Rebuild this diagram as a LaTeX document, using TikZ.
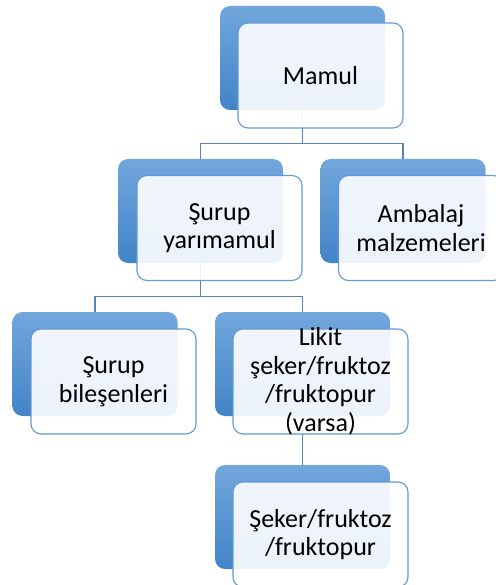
\documentclass[tikz,border=0pt]{standalone}
\usepackage{fontspec}
\setmainfont{Carlito}
\begin{document}
\begin{tikzpicture}[x=1pt,y=-1pt,
  backbox/.style={rectangle, rounded corners=10pt, draw=none,
    top color=backtop, bottom color=backbot,
    minimum width=#1, minimum height=104pt, inner sep=0pt},
  backbox/.default=165pt,
  frontbox/.style={rectangle, rounded corners=10pt, draw=frontline, line width=1.1pt,
    fill=white, fill opacity=0.9, text opacity=1,
    minimum width=#1, minimum height=105pt, inner sep=0pt},
  frontbox/.default=165pt,
  lbl/.style={align=center, inner sep=0pt, text=black,
    font=\fontsize{26}{28.5}\selectfont},
  conn/.style={draw=connline, line width=1.1pt}]
\definecolor{backtop}{RGB}{114,167,220}
\definecolor{backbot}{RGB}{66,132,200}
\definecolor{frontline}{RGB}{98,154,214}
\definecolor{connline}{RGB}{88,132,184}
\useasboundingbox (0,0) rectangle (495,585);

% back (shadow) boxes
\node[backbox] (mamulB) at (302.5,58) {};
\node[backbox] (surupB) at (200.5,211) {};
\node[backbox] (ambB)   at (403,211) {};
\node[backbox] (bilB)   at (95,364) {};
\node[backbox=175pt] (likitB) at (302.5,364) {};
\node[backbox=175pt] (sekerB) at (302.5,517) {};

% connectors
\draw[conn] (mamulB.south) -- ++(0,33) coordinate (j1) -| (surupB.north);
\draw[conn] (j1) -| (ambB.north);
\draw[conn] (surupB.south) -- ++(0,33) coordinate (j2) -| (bilB.north);
\draw[conn] (j2) -| (likitB.north);
\draw[conn] (likitB.south) -- (sekerB.north);

% front boxes
\node[frontbox] (mamulF) at (320.5,75.5) {};
\node[frontbox] (surupF) at (219.5,228) {};
\node[frontbox] (ambF)   at (421,228) {};
\node[frontbox] (bilF)   at (113.5,381.5) {};
\node[frontbox=175pt] (likitF) at (320.5,381.5) {};
\node[frontbox=175pt] (sekerF) at (320.5,534.5) {};

% labels
\node[lbl] (mamulT) at (mamulF) {Mamul};
\node[lbl] (surupT) at (surupF) {Şurup\\yarımamul};
\node[lbl] (ambT)   at (ambF)   {Ambalaj\\malzemeleri};
\node[lbl] (bilT)   at (bilF)   {Şurup\\bileşenleri};
\node[lbl] (likitT) at (likitF) {Likit\\şeker/fruktoz\\/fruktopur\\(varsa)};
\node[lbl] (sekerT) at (sekerF) {Şeker/fruktoz\\/fruktopur};
\end{tikzpicture}
\end{document}
